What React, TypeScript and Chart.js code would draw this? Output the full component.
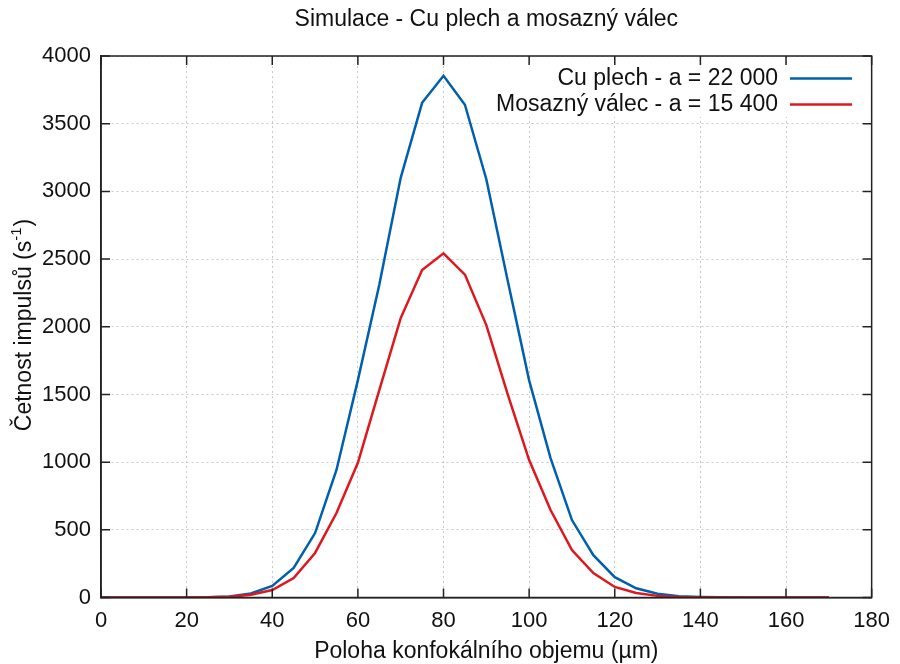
import React, { useEffect, useRef } from "react";
import { Chart, registerables } from "chart.js";

Chart.register(...registerables);

// ---- data ----
const positions = [0, 5, 10, 15, 20, 25, 30, 35, 40, 45, 50, 55, 60, 65, 70, 75, 80, 85, 90, 95, 100, 105, 110, 115, 120, 125, 130, 135, 140, 145, 150, 155, 160, 165, 170];
const cuPlech = [0, 0, 0, 0, 0, 1, 8, 30, 85, 218, 476, 942, 1606, 2310, 3100, 3654, 3854, 3640, 3090, 2340, 1604, 1030, 572, 313, 150, 68, 28, 10, 4, 1, 0, 0, 0, 0, 0];
const mosaznyValec = [0, 0, 0, 0, 0, 1, 5, 20, 55, 144, 329, 624, 995, 1532, 2064, 2419, 2542, 2385, 2012, 1500, 1015, 646, 351, 180, 78, 33, 12, 4, 1, 0, 0, 0, 0, 0, 0];
const xTickValues = [0, 20, 40, 60, 80, 100, 120, 140, 160, 180];
const yTickValues = [0, 500, 1000, 1500, 2000, 2500, 3000, 3500, 4000];
const seriesLabels = ["Cu plech - a = 22 000", "Mosazný válec - a = 15 400"];
const titleText = "Simulace - Cu plech a mosazný válec";
const xTitleText = "Poloha konfokálního objemu (µm)";
const yTitleMain = "Četnost impulsů (s";
const yTitleSup = "-1";
const yTitleEnd = ")";

const BLUE = "#0060ad";
const RED = "#dd181f";
const FONT = "'Liberation Sans', Arial, sans-serif";
const TEXT = "#111";

const decorPlugin = {
  id: "decor",
  afterDraw(chart: any) {
    const ctx = chart.ctx as CanvasRenderingContext2D;
    const { left, right, top, bottom } = chart.chartArea;
    const xs = chart.scales.x;
    const ys = chart.scales.y;
    ctx.save();

    // legend box (opaque)
    ctx.fillStyle = "#fff";
    ctx.fillRect(488, top + 8, right - 4 - 488, 53);
    ctx.font = `23px ${FONT}`;
    ctx.textAlign = "right";
    ctx.textBaseline = "middle";
    const colors = [BLUE, RED];
    seriesLabels.forEach((lab, i) => {
      const y = top + 22.5 + i * 26;
      ctx.fillStyle = TEXT;
      ctx.fillText(lab, 778, y);
      ctx.strokeStyle = colors[i];
      ctx.lineWidth = 2.5;
      ctx.beginPath();
      ctx.moveTo(790, y);
      ctx.lineTo(852, y);
      ctx.stroke();
    });

    // frame
    ctx.strokeStyle = "#222";
    ctx.lineWidth = 1.5;
    ctx.strokeRect(left, top, right - left, bottom - top);

    // inward ticks
    const tl = 9;
    ctx.beginPath();
    xTickValues.forEach((v) => {
      const px = xs.getPixelForValue(v);
      ctx.moveTo(px, bottom);
      ctx.lineTo(px, bottom - tl);
      ctx.moveTo(px, top);
      ctx.lineTo(px, top + tl);
    });
    yTickValues.forEach((v) => {
      const py = ys.getPixelForValue(v);
      ctx.moveTo(left, py);
      ctx.lineTo(left + tl, py);
      ctx.moveTo(right, py);
      ctx.lineTo(right - tl, py);
    });
    ctx.stroke();

    // title
    ctx.fillStyle = TEXT;
    ctx.textAlign = "center";
    ctx.textBaseline = "middle";
    ctx.font = `23px ${FONT}`;
    ctx.fillText(titleText, (left + right) / 2, 20);

    // x title
    ctx.font = `23px ${FONT}`;
    ctx.fillText(xTitleText, (left + right) / 2, 652);

    // y title with superscript
    ctx.translate(25, 325);
    ctx.rotate(-Math.PI / 2);
    ctx.textAlign = "left";
    ctx.font = `23px ${FONT}`;
    const w1 = ctx.measureText(yTitleMain).width;
    ctx.font = `15px ${FONT}`;
    const w2 = ctx.measureText(yTitleSup).width;
    ctx.font = `23px ${FONT}`;
    const w3 = ctx.measureText(yTitleEnd).width;
    const total = w1 + w2 + w3 + 1;
    let cx = -total / 2;
    ctx.fillText(yTitleMain, cx, 0);
    cx += w1;
    ctx.font = `15px ${FONT}`;
    ctx.fillText(yTitleSup, cx, -8);
    cx += w2 + 1;
    ctx.font = `23px ${FONT}`;
    ctx.fillText(yTitleEnd, cx, 0);

    ctx.restore();
  },
};

export default function App() {
  const ref = useRef<HTMLCanvasElement | null>(null);
  useEffect(() => {
    if (!ref.current) return;
    const chart = new Chart(ref.current, {
      type: "line",
      data: {
        datasets: [
          {
            label: seriesLabels[0],
            data: positions.map((x, i) => ({ x, y: cuPlech[i] })),
            borderColor: BLUE,
            backgroundColor: BLUE,
            borderWidth: 2.5,
            pointRadius: 0,
            tension: 0,
            order: 1,
          },
          {
            label: seriesLabels[1],
            data: positions.map((x, i) => ({ x, y: mosaznyValec[i] })),
            borderColor: RED,
            backgroundColor: RED,
            borderWidth: 2.5,
            pointRadius: 0,
            tension: 0,
            order: 0,
          },
        ],
      },
      options: {
        responsive: false,
        animation: false,
        layout: { padding: { top: 56, right: 27, left: 0, bottom: 0 } },
        plugins: {
          legend: { display: false },
          tooltip: { enabled: false },
          title: { display: false },
        },
        scales: {
          x: {
            type: "linear",
            min: 0,
            max: 180,
            afterFit: (s: any) => {
              s.height = 66.5;
            },
            afterBuildTicks: (s: any) => {
              s.ticks = xTickValues.map((v) => ({ value: v }));
            },
            ticks: {
              padding: 10,
              color: TEXT,
              font: { family: FONT, size: 22 },
              maxRotation: 0,
              callback: (v: any) => String(v),
            },
            grid: { color: "#c8c8c8", lineWidth: 1, drawTicks: false },
            border: { display: true, color: "#222", width: 1.5, dash: [2, 3] },
          },
          y: {
            type: "linear",
            min: 0,
            max: 4000,
            afterFit: (s: any) => {
              s.width = 101;
            },
            afterBuildTicks: (s: any) => {
              s.ticks = yTickValues.map((v) => ({ value: v }));
            },
            ticks: {
              padding: 10,
              color: TEXT,
              font: { family: FONT, size: 22 },
              callback: (v: any) => String(v),
            },
            grid: { color: "#c8c8c8", lineWidth: 1, drawTicks: false },
            border: { display: true, color: "#222", width: 1.5, dash: [2, 3] },
          },
        },
      },
      plugins: [decorPlugin],
    } as any);
    return () => chart.destroy();
  }, []);
  return (
    <div style={{ position: "absolute", left: 0, top: 0, width: 900, height: 664, background: "#fff" }}>
      <canvas ref={ref} width={900} height={664} />
    </div>
  );
}
